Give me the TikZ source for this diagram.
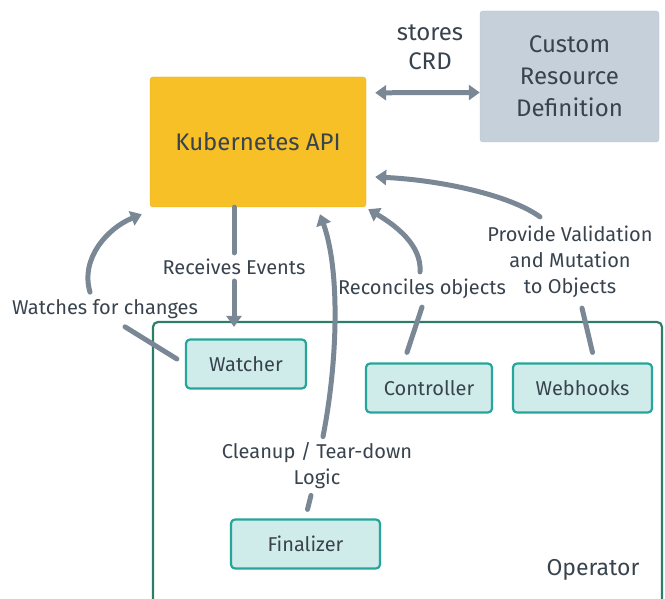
\documentclass[tikz,border=0pt]{standalone}
\usepackage{fontspec}
\setmainfont{Fira Sans}
\usetikzlibrary{arrows.meta, calc}

\definecolor{kyellow}{HTML}{F6C026}
\definecolor{kyellowline}{HTML}{E6B322}
\definecolor{crdgray}{HTML}{C5D0DA}
\definecolor{crdline}{HTML}{B6C1CB}
\definecolor{partfill}{HTML}{D0ECEA}
\definecolor{partline}{HTML}{26A69A}
\definecolor{opline}{HTML}{2E7D6B}
\definecolor{flowgray}{HTML}{7A8896}
\definecolor{ink}{HTML}{38434E}

\begin{document}
\begin{tikzpicture}[x=1pt,y=-1pt,
    kapibox/.style={draw=kyellowline, fill=kyellow, rounded corners=3pt, text=ink,
        minimum width=216pt, minimum height=130pt, font=\fontsize{24}{28}\selectfont},
    crdbox/.style={draw=crdline, fill=crdgray, rounded corners=3pt, text=ink, align=center,
        minimum width=179pt, minimum height=131pt, font=\fontsize{24}{32}\selectfont},
    part/.style={draw=partline, line width=2.2pt, fill=partfill, rounded corners=4pt, text=ink,
        minimum height=49pt, font=\fontsize{20}{23}\selectfont},
    lbl/.style={text=ink, align=center, inner sep=2pt, font=\fontsize{20}{26}\selectfont},
    seg/.style={draw=flowgray, line width=5pt, line cap=round},
    flow/.style={seg, -{Triangle[length=11pt,width=15pt]}},
    flowboth/.style={seg, {Triangle[length=11pt,width=15pt]}-{Triangle[length=11pt,width=15pt]}}]
    \useasboundingbox (0,0) rectangle (665,599);

    % API und CRD
    \node[kapibox] (kapi) at (258,142) {Kubernetes API};
    \node[crdbox] (crd) at (569.5,76.5) {Custom\\Resource\\Definition};
    \node[lbl, font=\fontsize{24}{29}\selectfont] (storelbl) at (430,47) {stores\\CRD};
    \draw[flowboth] ($(kapi.north east)+(9,16)$) -- ($(crd.west)+(0,16)$);

    % Operator
    \node[draw=opline, line width=2.2pt, rounded corners=5pt,
        minimum width=509pt, minimum height=300pt] (op) at (407.5,472) {};
    \node[text=ink, font=\fontsize{23}{27}\selectfont] (oplbl) at (593,570) {Operator};
    \node[part, minimum width=120pt] (watcher) at (246,364) {Watcher};
    \node[part, minimum width=126pt] (controller) at (429,388) {Controller};
    \node[part, minimum width=139pt] (webhooks) at (582.5,388) {Webhooks};
    \node[part, minimum width=149pt] (finalizer) at (305.5,544) {Finalizer};

    % Events
    \node[lbl] (recvlbl) at (234,267) {Receives Events};
    \draw[seg] (kapi.south -| recvlbl) -- ($(recvlbl.north)+(0,-4)$);
    \draw[flow] ($(recvlbl.south)+(0,4)$) -- ($(recvlbl |- op.north)+(0,6)$);

    % Watcher
    \node[lbl] (watchlbl) at (105,309) {Watches for changes};
    \draw[seg] ($(watcher.west)+(-8,-5)$) -- ($(watchlbl.south)+(20,6)$);
    \draw[flow] ($(watchlbl.north)+(-15,-5)$) .. controls (80,258) and (108,228) .. ($(kapi.south west)+(-8,7)$);

    % Finalizer
    \node[lbl] (cleanlbl) at (317,466) {Cleanup / Tear-down\\Logic};
    \draw[seg] ($(finalizer.north)+(2,-9)$) -- ($(cleanlbl.south)+(-6,4)$);
    \draw[flow] ($(cleanlbl.north)+(6,-4)$) .. controls (338,360) and (340,270) .. ($(kapi.south)+(62,7)$);

    % Controller
    \node[lbl] (reclbl) at (422,289) {Reconciles objects};
    \draw[seg] ($(controller.north)+(-22,-10)$) -- ($(reclbl.south)+(0,6)$);
    \draw[flow] ($(reclbl.north)+(-2,-5)$) .. controls (422,245) and (395,225) .. ($(kapi.south east)+(2,2)$);

    % Webhooks
    \node[lbl] (hooklbl) at (570,262) {Provide Validation\\and Mutation\\to Objects};
    \draw[seg] ($(webhooks.north)+(10,-10)$) -- ($(hooklbl.south)+(12,8)$);
    \draw[flow] ($(hooklbl.north)+(-30,-7)$) .. controls (510,195) and (440,180) .. ($(kapi.east)+(9,35)$);
\end{tikzpicture}
\end{document}
